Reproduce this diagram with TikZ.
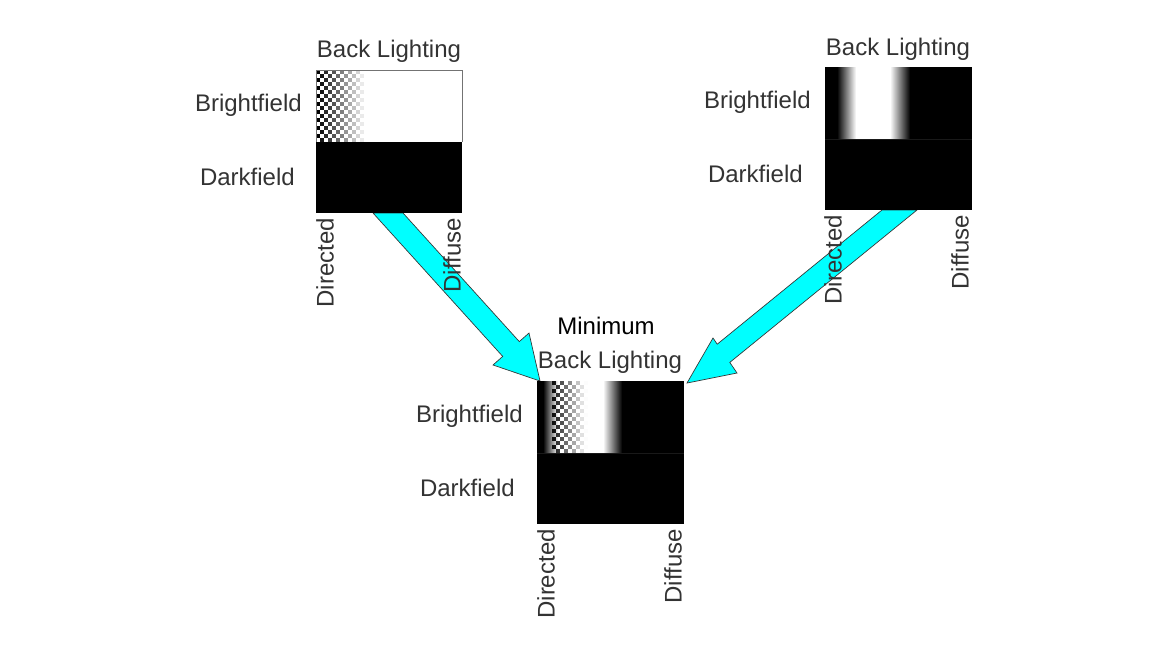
\documentclass[tikz,border=0pt]{standalone}
\usepackage{fontspec}
\setmainfont{Liberation Sans}
\definecolor{aqua}{RGB}{0,255,255}
\begin{document}
\begin{tikzpicture}[x=0.75pt,y=-0.75pt,
  lbl/.style={inner sep=0pt, text=black!80, font=\fontsize{18}{21}\selectfont},
  vlbl/.style={lbl, rotate=90, anchor=east},
  bigarrow/.style={fill=aqua, draw=black!80, line width=0.5pt, line join=miter}]
\useasboundingbox[fill=white] (0,0) rectangle (1170,658);

% ---------- arrows (behind panels) ----------
\coordinate (a1tl) at (373,213);
\coordinate (a1tr) at (403,213);
\coordinate (a1sr) at (519.3,341.6);
\coordinate (a1br) at (529,333);
\coordinate (a1tip) at (540,381);
\coordinate (a1bl) at (493,365);
\coordinate (a1sl) at (502.7,356.4);
\draw[bigarrow] (a1tl) -- (a1tr) -- (a1sr) -- (a1br) -- (a1tip) -- (a1bl) -- (a1sl) -- cycle;

\coordinate (a2tl) at (882,210);
\coordinate (a2tr) at (917,210);
\coordinate (a2sr) at (729.8,362.4);
\coordinate (a2br) at (737,373);
\coordinate (a2tip) at (687,383);
\coordinate (a2bl) at (713,338);
\coordinate (a2sl) at (717.2,344.2);
\draw[bigarrow] (a2tl) -- (a2tr) -- (a2sr) -- (a2br) -- (a2tip) -- (a2bl) -- (a2sl) -- cycle;

% ---------- panel 1 ----------
\fill[white] (316,70) rectangle (462,142);
\foreach \j in {0,...,17}{
  \foreach \i in {0,...,11}{
    \pgfmathtruncatemacro\k{mod(\i+\j,2)}
    \ifnum\k=0
      \pgfmathsetmacro\op{1-\i/12}
      \fill[black, fill opacity=\op] ({316+4*\i},{70+4*\j}) rectangle ++(4,4);
    \fi
  }
}
\draw[black!55, line width=0.5pt] (316,142) -- (316,70) -- (462,70) -- (462,142);
\fill[black] (316,142) rectangle (462,213);

\node[lbl, anchor=south] (p1title) at (389,63) {Back Lighting};
\node[lbl, anchor=east] (p1bf) at (302,105) {Brightfield};
\node[lbl, anchor=east] (p1df) at (295,177) {Darkfield};
\node[vlbl] (p1dir) at (325,218) {Directed};
\node[vlbl] (p1dif) at (452,218) {Diffuse};

% ---------- panel 2 ----------
\fill[black] (825,67) rectangle (972,210);
\shade[left color=black, right color=white] (837,67) rectangle (856,139);
\fill[white] (856,67) rectangle (890,139);
\shade[left color=white, right color=black] (890,67) rectangle (910,139);
\draw[black!90, line width=0.4pt] (825,139) -- (972,139);

\node[lbl, anchor=south] (p2title) at (898,61) {Back Lighting};
\node[lbl, anchor=east] (p2bf) at (811,102) {Brightfield};
\node[lbl, anchor=east] (p2df) at (803,174) {Darkfield};
\node[vlbl] (p2dir) at (833,215) {Directed};
\node[vlbl] (p2dif) at (960,215) {Diffuse};

% ---------- panel 3 ----------
\fill[black] (537,381) rectangle (684,524);
\shade[left color=black, right color=white] (543,381) rectangle (558,453);
\fill[white] (558,381) rectangle (603,453);
\shade[left color=white, right color=black] (603,381) rectangle (622,453);
\foreach \j in {0,...,17}{
  \foreach \i in {0,...,8}{
    \pgfmathtruncatemacro\k{mod(\i+\j,2)}
    \ifnum\k=0
      \pgfmathsetmacro\op{0.9-\i/9}
      \fill[black, fill opacity=\op] ({552+4*\i},{381+4*\j}) rectangle ++(4,4);
    \fi
  }
}
\draw[black!90, line width=0.4pt] (537,453) -- (684,453);

\node[inner sep=0pt, font=\fontsize{18}{21}\selectfont, anchor=south] (p3min) at (606,335) {Minimum};
\node[lbl, anchor=south] (p3title) at (610,374) {Back Lighting};
\node[lbl, anchor=east] (p3bf) at (523,416) {Brightfield};
\node[lbl, anchor=east] (p3df) at (515,488) {Darkfield};
\node[vlbl] (p3dir) at (546,529) {Directed};
\node[vlbl] (p3dif) at (673,529) {Diffuse};
\end{tikzpicture}
\end{document}
